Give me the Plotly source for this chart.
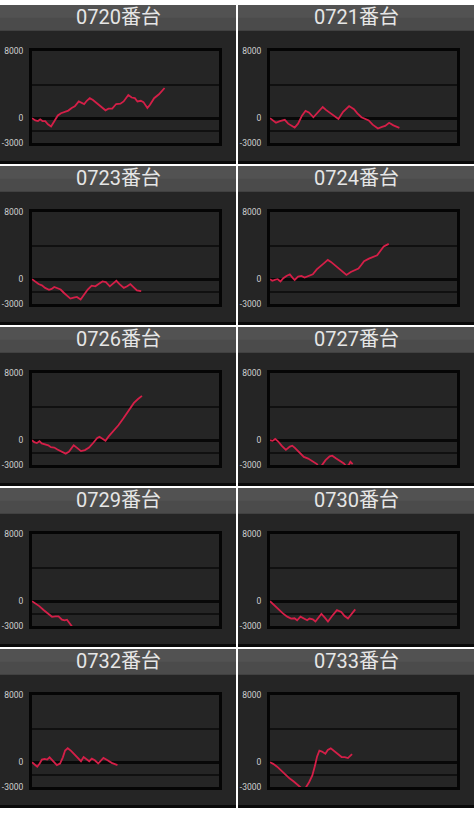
import plotly.graph_objects as go

W, H = 474, 813

titles = ["0720番台", "0721番台", "0723番台", "0724番台", "0726番台",
          "0727番台", "0729番台", "0730番台", "0732番台", "0733番台"]

# x = progress along the axis (0-100), y = difference in coins
x_0720 = [0, 1.8, 3.2, 4.4, 5.6, 7.1, 8.5, 10.2, 12.0, 13.8, 15.5, 17.6, 19.4, 21.2, 22.9,
          25.0, 26.5, 27.9, 29.3, 30.9, 32.6, 35.3, 37.9, 39.3, 40.9, 42.9, 45.0, 47.3,
          49.0, 51.5, 53.3, 55.0, 56.4, 58.2, 59.6, 61.7, 63.1, 65.3, 67.9, 70.9]
y_0720 = [0, -260, -340, -140, -340, -340, -730, -1000, -340, 330, 600, 760, 915, 1230, 1420,
          2010, 1815, 1700, 2090, 2400, 2170, 1700, 1230, 950, 1150, 1150, 1700, 1740,
          2010, 2790, 2480, 2400, 2010, 2090, 1930, 1230, 1620, 2400, 2870, 3620]

x_0721 = [0, 1.4, 3.2, 5.3, 7.9, 9.7, 11.4, 13.2, 15.0, 17.1, 19.0, 20.8, 23.2, 25.5, 28.2,
          29.9, 31.7, 33.8, 36.6, 39.1, 42.3, 44.9, 46.7, 48.9, 51.4, 52.8, 54.9, 57.7,
          59.9, 61.6, 63.7, 66.0, 69.2]
y_0721 = [0, -270, -540, -350, -190, -650, -850, -1115, -650, 310, 885, 690, 115, 690, 1345,
          1000, 690, 310, -80, 770, 1460, 1080, 580, 115, -80, -270, -770, -1230,
          -1040, -920, -540, -850, -1150]

x_0723 = [0, 1.8, 3.5, 5.3, 7.0, 9.1, 10.5, 11.9, 13.5, 15.3, 17.0, 18.8, 20.5, 22.3, 24.0,
          26.0, 28.1, 29.8, 31.9, 33.9, 35.6, 37.7, 39.5, 41.6, 43.0, 45.1, 46.8, 49.1,
          50.9, 52.6, 54.4, 56.1, 58.4]
y_0723 = [0, -350, -580, -730, -1040, -1270, -1160, -930, -1040, -1235, -1620, -2000, -2320,
          -2200, -2120, -2430, -1740, -1235, -770, -850, -580, -270, -350, -850, -580, -190,
          -580, -1040, -850, -580, -965, -1350, -1430]

x_0724 = [0, 1.2, 2.6, 4.1, 5.6, 7.1, 8.8, 10.6, 12.0, 13.2, 15.0, 16.8, 18.5, 20.3, 22.9,
          25.0, 27.3, 29.1, 30.9, 32.6, 35.3, 37.9, 40.9, 43.2, 45.0, 47.3, 49.0, 50.3,
          52.9, 55.6, 57.3, 59.1, 60.8, 63.5]
y_0724 = [0, -195, -80, 0, -275, 115, 390, 590, 195, -80, 315, 390, 195, 390, 590,
          1175, 1565, 1960, 2310, 2075, 1565, 1055, 510, 860, 1055, 1290, 1760, 2150,
          2465, 2660, 2860, 3405, 3915, 4230]

x_0726 = [0, 1.2, 2.6, 4.0, 5.2, 7.0, 8.7, 10.1, 11.9, 13.6, 15.7, 18.0, 19.7, 20.9, 22.3,
          24.1, 26.2, 28.3, 30.5, 32.8, 34.9, 36.1, 37.5, 39.3, 41.0, 43.6, 46.2, 48.9,
          51.5, 53.2, 54.5, 56.7, 58.8]
y_0726 = [0, -230, -345, -115, -380, -460, -610, -840, -880, -1110, -1375, -1605, -1375,
          -995, -610, -915, -1300, -1185, -880, -305, 265, 420, 230, -75, 460, 1110, 1795,
          2635, 3475, 3975, 4470, 4930, 5310]

x_0727 = [0, 1.4, 2.8, 4.4, 6.2, 8.5, 10.6, 11.9, 13.3, 15.6, 18.1, 20.4, 22.7, 25.1, 26.5,
          28.0, 29.7, 31.9, 33.3, 35.4, 37.5, 39.5, 40.7, 42.1, 43.0, 44.2]
y_0727 = [0, -80, 155, -155, -655, -1160, -770, -655, -925, -1430, -2005, -2200, -2510,
          -2855, -3400, -2970, -2390, -1930, -1850, -2200, -2470, -2780, -3090, -2970,
          -2585, -2855]

x_0729 = [0, 1.8, 3.9, 6.2, 8.5, 10.7, 12.5, 14.2, 16.0, 17.4, 18.7, 19.9, 21.4]
y_0729 = [0, -270, -585, -1050, -1475, -1865, -1825, -1825, -2215, -2295, -2215, -2605, -3030]

x_0730 = [0, 2.1, 4.4, 6.9, 9.2, 11.3, 13.1, 14.5, 16.3, 18.1, 19.9, 21.1, 22.9, 24.3, 26.4,
          27.5, 29.3, 31.0, 33.2, 35.8, 38.1, 39.9, 41.7, 43.4, 44.7, 45.6]
y_0730 = [0, -470, -980, -1455, -1845, -2080, -2045, -2280, -1845, -2080, -2280, -2080,
          -2160, -2435, -1885, -1530, -1965, -2435, -1770, -1060, -1295, -1770, -2080,
          -1570, -1100, -980]

x_0732 = [0, 1.4, 2.8, 4.1, 5.3, 6.7, 8.1, 9.4, 10.8, 12.0, 13.3, 15.0, 16.5, 17.7, 19.1,
          20.9, 22.7, 24.9, 26.2, 27.6, 29.2, 30.6, 32.0, 33.6, 35.4, 36.8, 38.2, 40.4,
          42.6, 45.7]
y_0732 = [0, -275, -545, -155, 310, 390, 310, 585, 235, -155, -350, -155, 585, 1405, 1675,
          1365, 975, 505, 115, 625, 310, 115, 430, 235, -155, 235, 505, 235, -80, -350]

x_0733 = [0, 1.7, 3.8, 6.1, 8.3, 10.4, 12.7, 14.8, 16.5, 17.6, 19.1, 20.9, 22.6, 24.0, 25.2,
          26.4, 27.8, 29.6, 30.9, 32.5, 34.8, 36.5, 38.3, 40.0, 41.7, 42.6, 43.9]
y_0733 = [0, -195, -540, -1040, -1430, -1930, -2315, -2700, -3050, -3400, -3050, -2395,
          -1620, -465, 695, 1390, 1275, 1005, 1465, 1660, 1275, 965, 620, 620, 500, 695, 965]

series = [(x_0720, y_0720), (x_0721, y_0721), (x_0723, y_0723), (x_0724, y_0724),
          (x_0726, y_0726), (x_0727, y_0727), (x_0729, y_0729), (x_0730, y_0730),
          (x_0732, y_0732), (x_0733, y_0733)]

y_tickvals = [-3000, -1500, 0, 4000, 8000]
y_ticktext = ["-3000", "", "0", "", "8000"]

col_left = [0, 238]
row_top = [0, 163, 326, 489, 652]
panel_w, panel_h = 236, 161


def px(v):
    return v / W


def py(v):
    return 1 - v / H


fig = go.Figure()
shapes = []
annotations = []
axes = {}

for i, (title, (xs, ys)) in enumerate(zip(titles, series)):
    r, c = divmod(i, 2)
    left, top = col_left[c], row_top[r]
    n = i + 1
    sfx = "" if n == 1 else str(n)

    # panel body, header and dark bottom edge
    shapes.append(dict(type="rect", xref="paper", yref="paper", layer="below",
                       x0=px(left), x1=px(left + panel_w), y0=py(top + panel_h), y1=py(top),
                       fillcolor="#252525", line_width=0))
    shapes.append(dict(type="rect", xref="paper", yref="paper", layer="below",
                       x0=px(left), x1=px(left + panel_w), y0=py(top + 26), y1=py(top),
                       fillcolor="#4b4b4b", line_width=0))
    shapes.append(dict(type="rect", xref="paper", yref="paper", layer="below",
                       x0=px(left), x1=px(left + panel_w), y0=py(top + 13), y1=py(top),
                       fillcolor="#525252", line_width=0))
    shapes.append(dict(type="rect", xref="paper", yref="paper", layer="below",
                       x0=px(left), x1=px(left + panel_w), y0=py(top + panel_h),
                       y1=py(top + panel_h - 3), fillcolor="#0a0a0a", line_width=0))

    annotations.append(dict(text=title, xref="paper", yref="paper", showarrow=False,
                            x=px(left + panel_w / 2), y=py(top + 12),
                            xanchor="center", yanchor="middle",
                            font=dict(family="Roboto, Noto Sans CJK JP", size=20,
                                      color="#e6e6e6")))

    fig.add_trace(go.Scatter(x=xs, y=ys, mode="lines", xaxis="x" + sfx, yaxis="y" + sfx,
                             line=dict(color="#d41f48", width=1.8), hoverinfo="skip",
                             showlegend=False))

    axes["xaxis" + sfx] = dict(domain=[px(left + 32), px(left + 219)], anchor="y" + sfx,
                               range=[0, 100], showgrid=False, zeroline=False,
                               showticklabels=False, showline=True, mirror=True,
                               linecolor="#050505", linewidth=3, fixedrange=True)
    axes["yaxis" + sfx] = dict(domain=[py(top + 140), py(top + 47)], anchor="x" + sfx,
                               range=[-3000, 8000], tickvals=y_tickvals, ticktext=y_ticktext,
                               showgrid=True, gridcolor="#101010", gridwidth=1.5,
                               zeroline=True, zerolinecolor="#080808", zerolinewidth=2.5,
                               showline=True, mirror=True, linecolor="#050505", linewidth=3,
                               ticks="", ticklabelstandoff=4,
                               tickfont=dict(family="Roboto", size=8.5, color="#cfcfcf"),
                               fixedrange=True)

fig.update_layout(
    width=W, height=H,
    margin=dict(l=0, r=0, t=0, b=0),
    paper_bgcolor="#ffffff",
    plot_bgcolor="#252525",
    shapes=shapes,
    annotations=annotations,
    **axes,
)

fig.write_html("out.html", config={"displayModeBar": False},
               post_script="document.body.style.margin='0';document.body.style.padding='0';")
